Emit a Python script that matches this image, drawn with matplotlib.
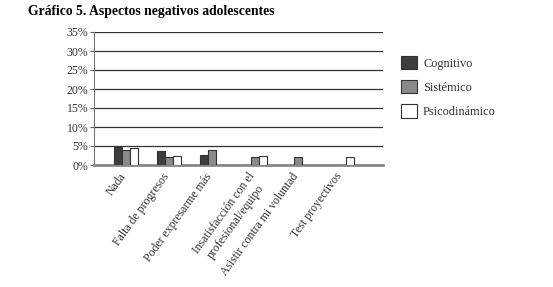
import matplotlib.pyplot as plt
import matplotlib.transforms as mtransforms
import numpy as np

plt.rcParams['font.family'] = ['Liberation Serif', 'DejaVu Serif']

categorias = ["Nada", "Falta de progresos", "Poder expresarme más",
              "Insatisfacción con el\nprofesional/equipo",
              "Asistir contra mi voluntad", "Test proyectivos"]
cognitivo = [4.7, 3.7, 2.6, 0.0, 0.0, 0.0]
sistemico = [4.0, 2.1, 4.0, 2.2, 2.2, 0.0]
psicodinamico = [4.5, 2.5, 0.0, 2.5, 0.0, 2.2]
yticks = [0, 5, 10, 15, 20, 25, 30, 35]

fig = plt.figure(figsize=(5.53, 2.87), dpi=100)
ax = fig.add_axes([94/553, 1-165/287, 289/553, 133/287])

x = np.arange(len(categorias))
w = 0.185
ec = "#333333"
ax.bar(x - w, cognitivo, w, color="#3d3d3d", edgecolor=ec, linewidth=0.8, label="Cognitivo", zorder=3)
ax.bar(x, sistemico, w, color="#8a8a8a", edgecolor=ec, linewidth=0.8, label="Sistémico", zorder=3)
ax.bar(x + w, psicodinamico, w, color="white", edgecolor=ec, linewidth=0.8, label="Psicodinámico", zorder=3)

ax.set_xlim(-0.73, 5.96)
ax.set_ylim(0, 35)
ax.set_yticks(yticks)
ax.set_yticklabels([f"{v}%" for v in yticks], fontsize=8.5, color="#333333")
for v in yticks[1:]:
    ax.axhline(v, color="#333333", linewidth=0.9, zorder=1)

ax.set_xticks(x)
ax.set_xticklabels(categorias, rotation=54, ha="right", rotation_mode="anchor",
                   fontsize=8.5, color="#333333", multialignment="center")
ax.tick_params(axis="x", length=0, pad=4)
ax.tick_params(axis="y", length=3, color="#666666", pad=1)
shift = mtransforms.ScaledTranslation(-7/100, 0, fig.dpi_scale_trans)
for lab in ax.get_xticklabels():
    lab.set_transform(lab.get_transform() + shift)

for s in ["top", "right"]:
    ax.spines[s].set_visible(False)
ax.spines["left"].set_color("#777777")
ax.spines["bottom"].set_color("#888888")
ax.spines["bottom"].set_linewidth(2)

fig.legend(loc="upper left", bbox_to_anchor=(390/553, 1-45/287), frameon=False,
           fontsize=8.8, handlelength=1.3, handleheight=1.3, labelspacing=0.85,
           handletextpad=0.5)
leg = fig.legends[0]
for t in leg.get_texts():
    t.set_color("#333333")

fig.text(28/553, 1-12/287, "Gráfico 5. Aspectos negativos adolescentes",
         fontsize=9.8, fontweight="bold", va="center", ha="left")

fig.savefig("out.png", dpi=100)
